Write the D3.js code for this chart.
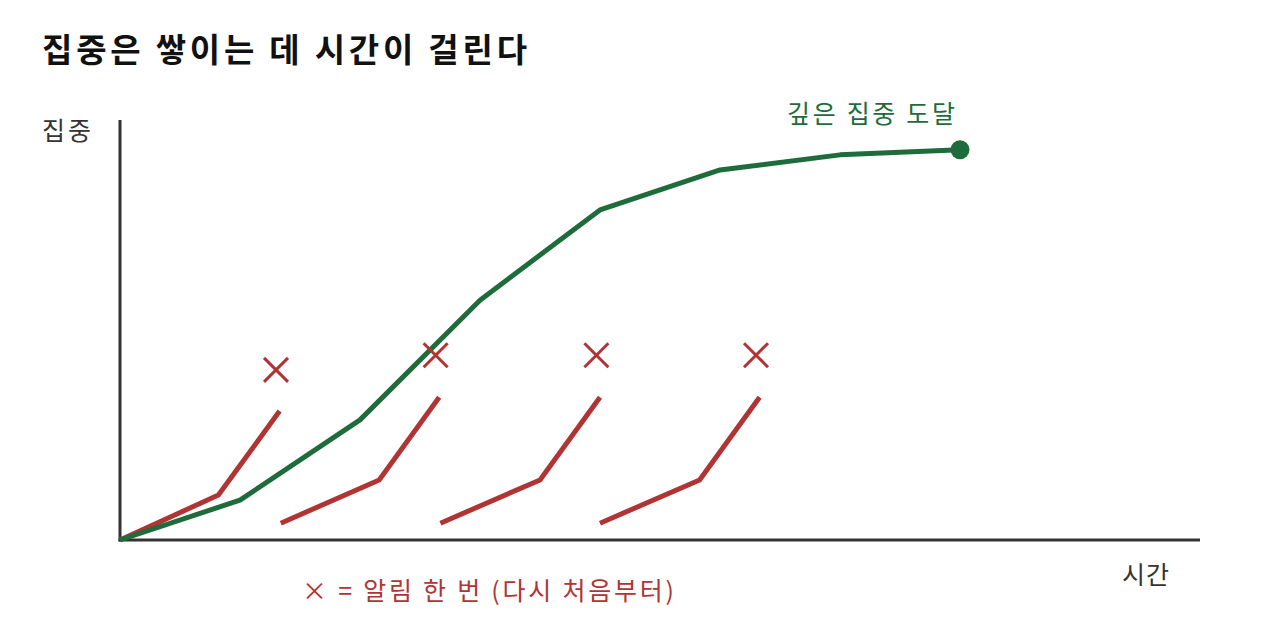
<!DOCTYPE html>
<html>
<head>
<meta charset="utf-8">
<script src="https://cdn.jsdelivr.net/npm/d3@7"></script>
<style>
  body { margin: 0; background: #fff; }
  text { font-family: "Noto Sans CJK KR", "Noto Sans", sans-serif; }
</style>
</head>
<body>
<div id="chart"></div>
<script>
/* 집중 누적 vs 알림으로 끊기는 집중 */

// green: deep focus that builds over time
const focusX = [0, 1, 2, 3, 4, 5, 6, 7];
const focusY = [0, 9.5, 28.6, 57.1, 78.6, 88.1, 91.7, 92.9];

// red: attempts interrupted by a notification
const attempts = [
    {x: [0, 0.82, 1.33], y: [0, 10.7, 30.7], mark: [1.30, 40.5]},
    {x: [1.34, 2.16, 2.66], y: [4.0, 14.3, 34.0], mark: [2.63, 44.0]},
    {x: [2.67, 3.50, 4.00], y: [4.0, 14.3, 34.0], mark: [3.97, 44.0]},
    {x: [4.00, 4.83, 5.33], y: [4.0, 14.3, 34.0], mark: [5.30, 44.0]}
];

const title = "집중은 쌓이는 데 시간이 걸린다";
const yLabel = "집중";
const xLabel = "시간";
const endLabel = "깊은 집중 도달";
const legendLabel = "× = 알림 한 번 (다시 처음부터)";

const width = 1280,
    height = 640,
    margin = ({top: 120, right: 80, bottom: 100, left: 120});

const green = "#1e6b3c",
    red = "#b03434",
    ink = "#333";

let svg = d3.select("#chart")
    .append("svg")
    .attr("width", width)
    .attr("height", height)
    .attr("viewBox", [0, 0, width, height]);

let x = d3.scaleLinear()
    .domain([0, 9])
    .range([margin.left, width - margin.right]);

let y = d3.scaleLinear()
    .domain([0, 100])
    .range([height - margin.bottom, margin.top]);

// title
svg.append("text")
    .attr("x", 42)
    .attr("y", 62)
    .attr("font-size", 33)
    .attr("font-weight", 700)
    .attr("fill", "#111")
    .attr("textLength", 485)
    .attr("lengthAdjust", "spacing")
    .text(title);

// axes (plain lines, no ticks)
svg.append("line")
    .attr("x1", x(0)).attr("x2", x(0))
    .attr("y1", y(0) + 1.5).attr("y2", y(100))
    .attr("stroke", ink).attr("stroke-width", 3);

svg.append("line")
    .attr("x1", x(0) - 1.5).attr("x2", x(9))
    .attr("y1", y(0)).attr("y2", y(0))
    .attr("stroke", ink).attr("stroke-width", 3);

svg.append("text")
    .attr("x", 42).attr("y", 140)
    .attr("font-size", 25).attr("fill", ink)
    .attr("textLength", 49)
    .attr("lengthAdjust", "spacing")
    .text(yLabel);

svg.append("text")
    .attr("x", 1122).attr("y", 584)
    .attr("font-size", 25).attr("fill", ink)
    .attr("textLength", 47)
    .attr("lengthAdjust", "spacing")
    .text(xLabel);

const line = d3.line()
    .x(d => x(d[0]))
    .y(d => y(d[1]));

// interrupted attempts
for (let a of attempts) {
    svg.append("path")
        .datum(a.x.map((v, i) => [v, a.y[i]]))
        .attr("fill", "none")
        .attr("stroke", red)
        .attr("stroke-width", 5)
        .attr("d", line);
}

// green focus curve
const focusData = focusX.map((v, i) => [v, focusY[i]]);

svg.append("path")
    .datum(focusData)
    .attr("fill", "none")
    .attr("stroke", green)
    .attr("stroke-width", 5)
    .attr("stroke-linejoin", "round")
    .attr("d", line);

const last = focusData[focusData.length - 1];

svg.append("circle")
    .attr("cx", x(last[0]))
    .attr("cy", y(last[1]))
    .attr("r", 9.5)
    .attr("fill", green);

svg.append("text")
    .attr("x", x(last[0]) - 173)
    .attr("y", y(last[1]) - 27)
    .attr("font-size", 25)
    .attr("fill", green)
    .attr("textLength", 168)
    .attr("lengthAdjust", "spacing")
    .text(endLabel);

// notification marks
const s = 12;
let marks = svg.selectAll(".mark")
    .data(attempts)
    .join("g")
    .attr("class", "mark")
    .attr("transform", d => `translate(${x(d.mark[0])},${y(d.mark[1])})`)
    .attr("stroke", red)
    .attr("stroke-width", 3);

marks.append("line").attr("x1", -s).attr("y1", -s).attr("x2", s).attr("y2", s);
marks.append("line").attr("x1", -s).attr("y1", s).attr("x2", s).attr("y2", -s);

// legend
svg.append("text")
    .attr("x", 302)
    .attr("y", 600)
    .attr("font-size", 25)
    .attr("fill", red)
    .attr("textLength", 372)
    .attr("lengthAdjust", "spacing")
    .text(legendLabel);
</script>
</body>
</html>
